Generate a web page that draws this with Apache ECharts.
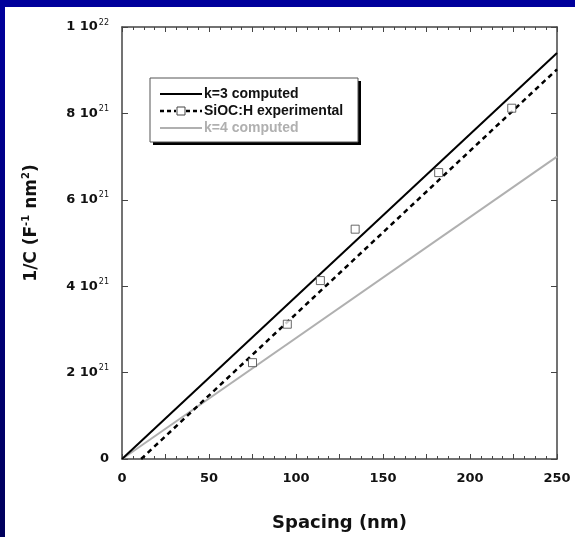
<!DOCTYPE html>
<html>
<head>
<meta charset="utf-8">
<script src="https://cdn.jsdelivr.net/npm/echarts@6/dist/echarts.min.js"></script>
<style>
  html, body { margin: 0; padding: 0; }
  body {
    width: 575px; height: 537px; overflow: hidden; position: relative;
    background: linear-gradient(to bottom, #00009c, #00005c);
  }
  #echarts { position: absolute; left: 5px; top: 7px; width: 570px; height: 530px; background: #fff; }
</style>
</head>
<body>
<div id="echarts"></div>
<script>
// 数据：直线两端点 (Spacing nm, 1/C)
var k3Line = [[0, 0], [250, 9.4e21]];
var k4Line = [[0, 0], [250, 7.0e21]];
var fitLine = [[11, 0], [250, 9.02e21]];
// 实验点
var expX = [75, 95, 114, 134, 182, 224];
var expY = [2.23e21, 3.12e21, 4.13e21, 5.32e21, 6.63e21, 8.12e21];
var legendNames = ['k=3 computed', 'SiOC:H experimental', 'k=4 computed'];

var expPoints = expX.map(function (x, i) { return [x, expY[i]]; });

var myChart = echarts.init(document.getElementById('echarts'));

var axisColor = '#444';
var font = 'Liberation Sans, Arial, sans-serif';
var wideFont = 'DejaVu Sans, Verdana, sans-serif';

function yLabel(v) {
    if (v === 0) return '{a|0}';
    var e = Math.floor(Math.log10(v) + 1e-9);
    var m = Math.round(v / Math.pow(10, e));
    return '{a|' + m + ' 10}{s|' + e + '}';
}

// 每次新建轴对象，四边刻度都朝内
function xAxisOf(pos) {
    return {
        type: 'value', min: 0, max: 250, interval: 25, position: pos,
        axisLine: { show: true, onZero: false, lineStyle: { color: axisColor, width: 1.5 } },
        axisTick: { show: true, inside: true, length: 5, lineStyle: { color: axisColor } },
        minorTick: { show: true, splitNumber: 4, length: 3, lineStyle: { color: axisColor } },
        axisLabel: { show: false },
        splitLine: { show: false }
    };
}
function yAxisOf(pos) {
    return {
        type: 'value', min: 0, max: 1e22, interval: 2e21, position: pos,
        axisLine: { show: true, onZero: false, lineStyle: { color: axisColor, width: 1.5 } },
        axisTick: { show: true, inside: true, length: 6, lineStyle: { color: axisColor } },
        axisLabel: { show: false },
        splitLine: { show: false }
    };
}

var xBottom = xAxisOf('bottom');
xBottom.name = 'Spacing (nm)';
xBottom.nameLocation = 'middle';
xBottom.nameGap = 55;
xBottom.nameTextStyle = { fontSize: 18, fontWeight: 'bold', color: '#111', fontFamily: wideFont };
xBottom.axisLabel = {
    show: true, margin: 13, fontSize: 13, fontWeight: 'bold', color: '#111', fontFamily: wideFont,
    formatter: function (v) { return v % 50 === 0 ? String(v) : ''; }
};

var yLeft = yAxisOf('left');
yLeft.name = '{t|1/C (F}{s|-1}{t| nm}{s|2}{t|)}';
yLeft.nameLocation = 'middle';
yLeft.nameGap = 80;
yLeft.nameTextStyle = {
    padding: [0, 0, 0, 40],
    rich: {
        t: { fontSize: 17, fontWeight: 'bold', color: '#111', fontFamily: wideFont },
        s: { fontSize: 10, fontWeight: 'bold', color: '#111', fontFamily: wideFont, padding: [0, 0, 11, 0] }
    }
};
yLeft.axisLabel = {
    show: true, margin: 13, formatter: yLabel,
    rich: {
        a: { fontSize: 13, fontWeight: 'bold', color: '#111', fontFamily: wideFont },
        s: { fontSize: 8, color: '#111', fontFamily: wideFont, padding: [0, 0, 9, 1] }
    }
};

// 图例（手绘，带阴影的框）
var lx = 145, ly = 71, lw = 208, lh = 64;
var rows = [87, 104, 121];
var legendGraphic = [
    { type: 'rect', shape: { x: lx + 3, y: ly + 3, width: lw, height: lh }, style: { fill: '#000' }, z: 100 },
    { type: 'rect', shape: { x: lx, y: ly, width: lw, height: lh }, style: { fill: '#fff', stroke: '#555', lineWidth: 1 }, z: 101 },
    { type: 'line', shape: { x1: 155, y1: rows[0], x2: 197, y2: rows[0] }, style: { stroke: '#000', lineWidth: 2 }, z: 102 },
    { type: 'line', shape: { x1: 155, y1: rows[1], x2: 171, y2: rows[1] }, style: { stroke: '#000', lineWidth: 2.5, lineDash: [4, 3] }, z: 102 },
    { type: 'rect', shape: { x: 172, y: rows[1] - 4, width: 8, height: 8 }, style: { fill: '#fff', stroke: '#444', lineWidth: 1 }, z: 102 },
    { type: 'line', shape: { x1: 181, y1: rows[1], x2: 197, y2: rows[1] }, style: { stroke: '#000', lineWidth: 2.5, lineDash: [4, 3] }, z: 102 },
    { type: 'line', shape: { x1: 155, y1: rows[2], x2: 197, y2: rows[2] }, style: { stroke: '#b0b0b0', lineWidth: 2 }, z: 102 }
];
var legendColors = ['#111', '#111', '#b0b0b0'];
legendNames.forEach(function (n, i) {
    legendGraphic.push({
        type: 'text', x: 199, y: rows[i], z: 102,
        style: { text: n, fill: legendColors[i], font: 'bold 14px ' + font, verticalAlign: 'middle' }
    });
});

var option = {
    backgroundColor: '#fff',
    animation: false,
    textStyle: { fontFamily: wideFont },
    grid: { left: 117, right: 18, top: 20, bottom: 78 },
    xAxis: [xBottom, xAxisOf('top')],
    yAxis: [yLeft, yAxisOf('right')],
    series: [
        {
            name: legendNames[0], type: 'line', data: k3Line, showSymbol: false,
            lineStyle: { color: '#000', width: 2 }, z: 3
        },
        {
            name: legendNames[1], type: 'line', data: fitLine, showSymbol: false,
            lineStyle: { color: '#000', width: 2.5, type: [5, 4] }, z: 3
        },
        {
            name: legendNames[2], type: 'line', data: k4Line, showSymbol: false,
            lineStyle: { color: '#b0b0b0', width: 2 }, z: 2
        },
        {
            name: 'points', type: 'scatter', data: expPoints, symbol: 'rect', symbolSize: 8,
            itemStyle: { color: '#fff', borderColor: '#444', borderWidth: 1 }, z: 4
        }
    ],
    graphic: legendGraphic
};

myChart.setOption(option);
</script>
</body>
</html>
